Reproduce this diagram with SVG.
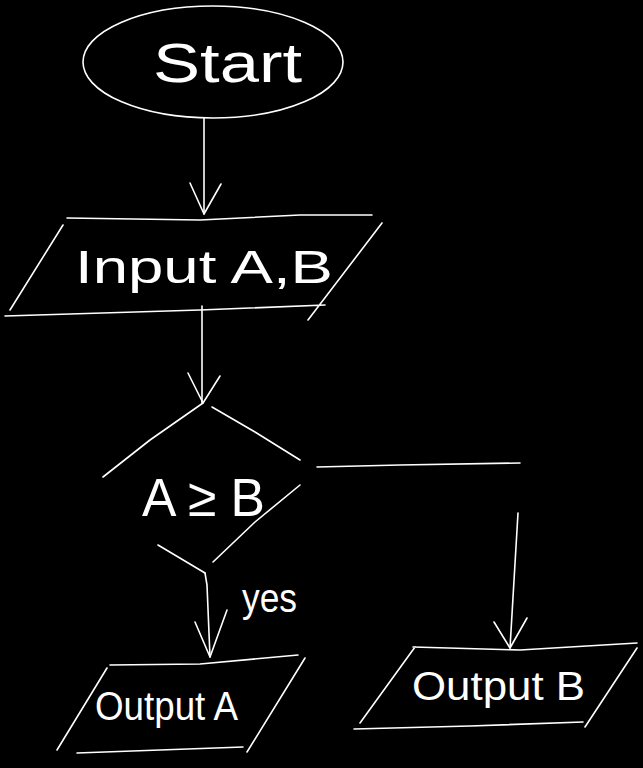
<svg xmlns="http://www.w3.org/2000/svg" width="643" height="768" viewBox="0 0 643 768">
  <style>
    .ln { fill: none; stroke: #ffffff; stroke-width: 1.6; stroke-linecap: round; stroke-linejoin: round; }
    .tx { fill: #ffffff; font-family: "Liberation Sans", "DejaVu Sans", sans-serif; font-weight: normal; }
  </style>
  <rect x="0" y="0" width="643" height="768" fill="#000000"/>

  <g id="start">
    <ellipse class="ln" cx="213" cy="62" rx="130" ry="56"/>
    <text class="tx" x="153" y="82" font-size="56" textLength="149" lengthAdjust="spacingAndGlyphs">Start</text>
  </g>

  <g id="input">
    <path class="ln" d="M67,218 L200,220 L300,215 L372,215 M382,223 L308,320 M325,305 L200,310 L5,316 M63,225 L10,310"/>
    <text class="tx" x="75" y="283" font-size="46" textLength="258" lengthAdjust="spacingAndGlyphs">Input A,B</text>
  </g>

  <g id="decision">
    <path class="ln" d="M203,403 L150,440 L103,477 M212,407 L255,432 L300,460 M300,485 L255,522 L213,562 M158,545 L205,573"/>
    <text class="tx" x="142" y="516" font-size="54" textLength="123" lengthAdjust="spacingAndGlyphs">A ≥ B</text>
  </g>

  <g id="outputA">
    <path class="ln" d="M110,665 L200,664 L298,655 M305,658 L247,752 M243,747 L160,750 L77,753 M107,668 L57,750"/>
    <text class="tx" x="95" y="720" font-size="40" textLength="143" lengthAdjust="spacingAndGlyphs">Output A</text>
  </g>

  <g id="outputB">
    <path class="ln" d="M413,647 L520,650 L637,643 M637,648 L585,727 M583,722 L470,726 L354,729 M415,647 L360,723"/>
    <text class="tx" x="412" y="700" font-size="40" textLength="173" lengthAdjust="spacingAndGlyphs">Output B</text>
  </g>

  <g id="connectors">
    <path class="ln" d="M204,118 L204,214"/>
    <path class="ln" d="M190,183 L204,214 L221,184"/>
    <path class="ln" d="M202,306 L202,403"/>
    <path class="ln" d="M188,373 L203,403 L220,376"/>
    <path class="ln" d="M205,573 L207,585 L210,657"/>
    <path class="ln" d="M195,622 L210,657 L227,610"/>
    <text class="tx" x="242" y="612" font-size="40" textLength="55" lengthAdjust="spacingAndGlyphs">yes</text>
    <path class="ln" d="M317,467 L400,465 L520,463 M518,513 L510,648"/>
    <path class="ln" d="M494,622 L510,648 L527,618"/>
  </g>
</svg>
